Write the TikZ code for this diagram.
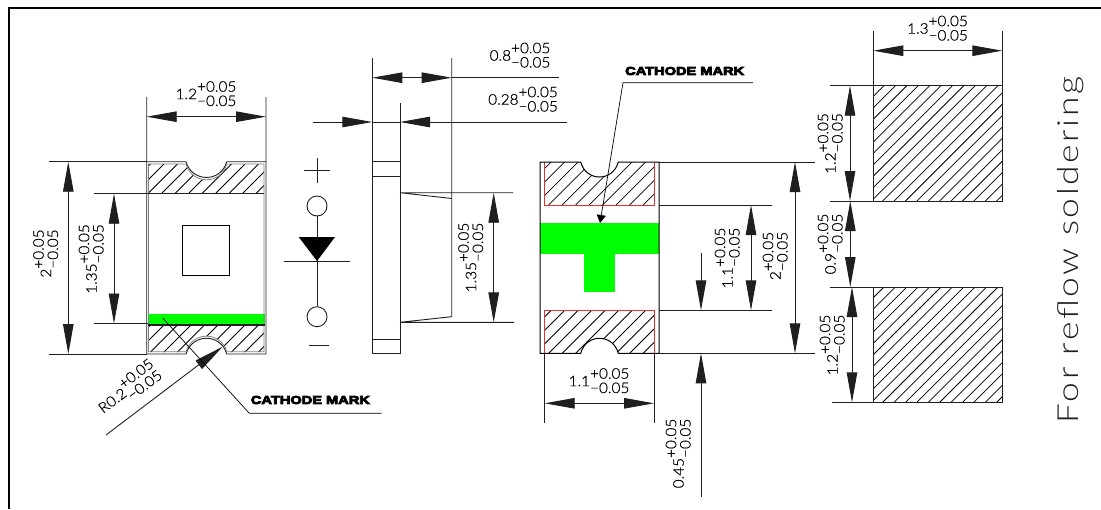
\documentclass[tikz,border=0pt]{standalone}
\usepackage{fontspec}
\usetikzlibrary{arrows.meta}
\setmainfont{Liberation Sans}
\newfontfamily\dimf{Lato Light}[FakeStretch=1.06,FakeBold=0.6]
\newfontfamily\reflowf{Lato Light}[FakeStretch=1.22,LetterSpace=9]
\newfontfamily\markf{Liberation Sans Bold}[FakeBold=7,FakeStretch=1.27]
\definecolor{lin}{gray}{0.12}
\definecolor{grn}{RGB}{0,255,0}
\definecolor{redl}{RGB}{225,50,50}
\newcommand{\tolv}[1]{\fontsize{14.5}{12.6}\selectfont #1\begin{tabular}[c]{@{}l@{}}+0.05\\[0.2pt]\textminus 0.05\end{tabular}}
\newcommand{\hatchlines}[5]{% xmin,xmax,ybottom,height,spacing
  \pgfmathsetmacro{\hstart}{#1-#4}
  \pgfmathsetmacro{\hnext}{#1-#4+#5}
  \foreach \hx in {\hstart,\hnext,...,#2}{\draw[hatchline] (\hx,#3) -- ++(#4,-#4);}
}
\tikzset{
  x=1pt,y=-1pt,
  lineart/.style={draw=lin,line width=0.9pt},
  hatchline/.style={draw=black,line width=0.75pt},
  dimline/.style={draw=lin,line width=0.9pt},
  dimboth/.style={dimline,{Triangle[length=30pt,width=10.5pt]}-{Triangle[length=30pt,width=10.5pt]}},
  dimend/.style={dimline,-{Triangle[length=30pt,width=10.5pt]}},
  dimtext/.style={inner sep=0pt,text=black,font=\dimf},
  marktext/.style={inner sep=0pt,font=\markf\fontsize{11.5}{12}\selectfont},
  leader/.style={draw=black,line width=0.7pt},
}
\begin{document}
\begin{tikzpicture}
\useasboundingbox (0,0) rectangle (1101,509);
% frame
\draw[draw=black,line width=1.6pt] (9,509) -- (9,8) -- (1101,8);

%%% LEFT VIEW
\fill[grn] (148,314.3) rectangle (265,324.3);
\begin{scope}
\clip (148.5,164) -- (186,164) .. controls (192,185) and (221,185) .. (226.7,164) -- (264,164) -- (264,193) -- (148.5,193) -- cycle;
\hatchlines{148}{264}{193}{40}{13.5}
\end{scope}
\begin{scope}
\clip (148.5,326) -- (264,326) -- (264,352) -- (226.7,352) .. controls (221,331) and (192,331) .. (186,352) -- (148.5,352) -- cycle;
\hatchlines{148}{264}{354}{40}{13.5}
\end{scope}
\draw[lineart] (146.7,97) -- (146.7,354) -- (186,354) .. controls (192,333) and (221,333) .. (226.7,354) -- (266,354) -- (266,97);
\draw[lineart] (146.7,161.7) -- (186,161.7) .. controls (192,182.7) and (221,182.7) .. (226.7,161.7) -- (266,161.7);
\draw[draw=gray,line width=0.8pt] (148.5,351.7) -- (186,351.7) .. controls (192,331) and (221,331) .. (226.7,351.7) -- (264,351.7) -- (264,164) -- (226.7,164) .. controls (221,185) and (192,185) .. (186,164) -- (148.5,164) -- cycle;
\draw[lineart] (148,193.3) -- (264,193.3);
\draw[lin,line width=1.8pt] (148,325.2) -- (265,325.2);
\draw[draw=black,line width=0.7pt] (182.3,225) rectangle (229.3,275.3);
% left dims
\draw[dimboth] (146.7,116.7) -- (266,116.7);
\node[dimtext] (t12) at (206,95.5) {\tolv{1.2}};
\draw[dimline] (48.7,161.7) -- (146.7,161.7) (48.7,354) -- (146.7,354);
\draw[dimboth] (68.3,161.7) -- (68.3,354);
\node[dimtext,rotate=90] (t2) at (47.5,253.5) {\tolv{2}};
\draw[dimline] (94.3,193.7) -- (148,193.7) (94.3,323.5) -- (148,323.5);
\draw[dimboth] (114,193.7) -- (114,323.5);
\node[dimtext,rotate=90] (t135) at (93,259) {\tolv{1.35}};
% R0.2
\draw[dimend] (106,435) -- (222.7,346.7);
\node[dimtext,rotate=37] (tr) at (129,390) {\tolv{R0.2}};
% cathode mark left
\draw[leader] (162.7,318) -- (249.3,413.3) -- (381.7,413.3);
\node[marktext,anchor=west] (cm1) at (250.7,400) {CATHODE MARK};

%%% DIODE
\draw[lineart] (304,170) -- (330,170) (317,158) -- (317,183);
\node[circle,draw=lin,line width=0.9pt,minimum size=20pt,inner sep=0pt] (c1) at (317,206) {};
\node[circle,draw=lin,line width=0.9pt,minimum size=20pt,inner sep=0pt] (c2) at (317,316.7) {};
\draw[lineart] (c1) -- (c2);
\fill[black] (298.7,237) -- (335,237) -- (317,261) -- cycle;
\draw[lineart] (284,261) -- (350,261);
\draw[lineart] (309,345) -- (329,345);

%%% SIDE VIEW
\draw[lineart] (372.3,58) -- (372.3,353.7) -- (400,353.7) -- (400,102.7);
\draw[lineart] (372.3,161.3) -- (400,161.3) (372.3,176) -- (400,176) (372.3,339.3) -- (400,339.3);
\draw[lineart] (451.7,58) -- (451.7,316.7) -- (400,322.3) -- (514,322.3);
\draw[lineart] (400,192.7) -- (513,192.7) (400,192.7) -- (451.7,198.5);
\draw[dimboth] (372.3,77.7) -- (451.7,77.7);
\draw[dimline] (451.7,77.7) -- (559,77.7);
\node[dimtext] (t08) at (520,57) {\tolv{0.8}};
\draw[dimend] (312.7,122) -- (372.3,122);
\draw[dimend] (567,122) -- (400,122);
\draw[dimline] (372.3,122) -- (400,122);
\node[dimtext] (t028) at (523,101) {\tolv{0.28}};
\draw[dimboth] (493.7,192.7) -- (493.7,322.3);
\node[dimtext,rotate=90] (t135b) at (472.5,257.5) {\tolv{1.35}};

%%% FRONT VIEW RIGHT
\fill[grn] (540,223.3) rectangle (659,253.7);
\fill[grn] (584,253) rectangle (615,292);
\begin{scope}
\clip (544.7,162) -- (580.7,162) .. controls (586,183) and (613,183) .. (618.3,162) -- (654.7,162) -- (654.7,205) -- (544.7,205) -- cycle;
\hatchlines{544.7}{654.7}{205}{50}{13.5}
\end{scope}
\begin{scope}
\clip (544.7,310.3) -- (654.7,310.3) -- (654.7,353.3) -- (618.3,353.3) .. controls (613,333) and (586,333) .. (580.7,353.3) -- (544.7,353.3) -- cycle;
\hatchlines{544.7}{654.7}{353.3}{50}{13.5}
\end{scope}
\draw[draw=redl,line width=0.9pt] (544.7,162) -- (544.7,205) -- (654.7,205) -- (654.7,162);
\draw[draw=redl,line width=0.9pt] (544.7,353.3) -- (544.7,310.3) -- (654.7,310.3) -- (654.7,353.3);
\draw[draw=black,line width=1pt] (540,353.3) -- (540,162) -- (580.7,162) .. controls (586,182) and (613,182) .. (618.3,162) -- (659,162) -- (659,353.3) -- (618.3,353.3) .. controls (613,333.3) and (586,333.3) .. (580.7,353.3) -- cycle;
% leader
\draw[leader,-{Triangle[length=8pt,width=9pt]}] (753,82.7) -- (623,82.7) -- (600,223);
\node[marktext,anchor=west] (cm2) at (625,71) {CATHODE MARK};
% ext lines
\draw[dimline] (659,162) -- (815,162) (659,353.3) -- (815,353.3) (659,205) -- (771.7,205) (659,310.3) -- (771.7,310.3);
\draw[dimboth] (795,162) -- (795,353.3);
\draw[dimboth] (751,205) -- (751,310.3);
\draw[dimend] (701,252.7) -- (701,310.3);
\draw[dimend] (701,496.7) -- (701,353.3);
\draw[dimline] (544.7,353.3) -- (544.7,422.7) (654,353.3) -- (654,422.7);
\draw[dimboth] (544.7,403.3) -- (654,403.3);
\node[dimtext] (t11) at (599,382.5) {\tolv{1.1}};
\node[dimtext,rotate=90] (t11b) at (729,258) {\tolv{1.1}};
\node[dimtext,rotate=90] (t2b) at (777,256) {\tolv{2}};
\node[dimtext,rotate=90] (t045) at (680,453.5) {\tolv{0.45}};

%%% PADS
\begin{scope}
\clip (873.3,85.7) rectangle (1002.3,201);
\hatchlines{873.3}{1002.3}{201}{116}{11.4}
\end{scope}
\begin{scope}
\clip (873.3,287) rectangle (1002.3,402.3);
\hatchlines{873.3}{1002.3}{402.3}{116}{11.4}
\end{scope}
\draw[lineart] (873.3,85.7) rectangle (1002.3,201);
\draw[lineart] (873.3,287) rectangle (1002.3,402.3);
\draw[dimline] (873.3,31) -- (873.3,85.7) (1002.3,31) -- (1002.3,85.7);
\draw[dimboth] (873.3,50.7) -- (1002.3,50.7);
\node[dimtext] (t13) at (937.5,30) {\tolv{1.3}};
\draw[dimline] (830,85.7) -- (873.3,85.7) (830,201) -- (873.3,201) (830,287) -- (873.3,287) (832,402.3) -- (873.3,402.3);
\draw[dimboth] (850,85.7) -- (850,201);
\draw[dimboth] (850.3,201) -- (850.3,287);
\draw[dimboth] (852,287) -- (852,402.3);
\node[dimtext,rotate=90] (t12a) at (832,143.5) {\tolv{1.2}};
\node[dimtext,rotate=90] (t09) at (832,244) {\tolv{0.9}};
\node[dimtext,rotate=90] (t12b) at (834,345) {\tolv{1.2}};
\node[inner sep=0pt,rotate=90,text=lin,font=\reflowf\fontsize{29}{30}\selectfont] (reflow) at (1071,250) {For reflow soldering};
\end{tikzpicture}
\end{document}
